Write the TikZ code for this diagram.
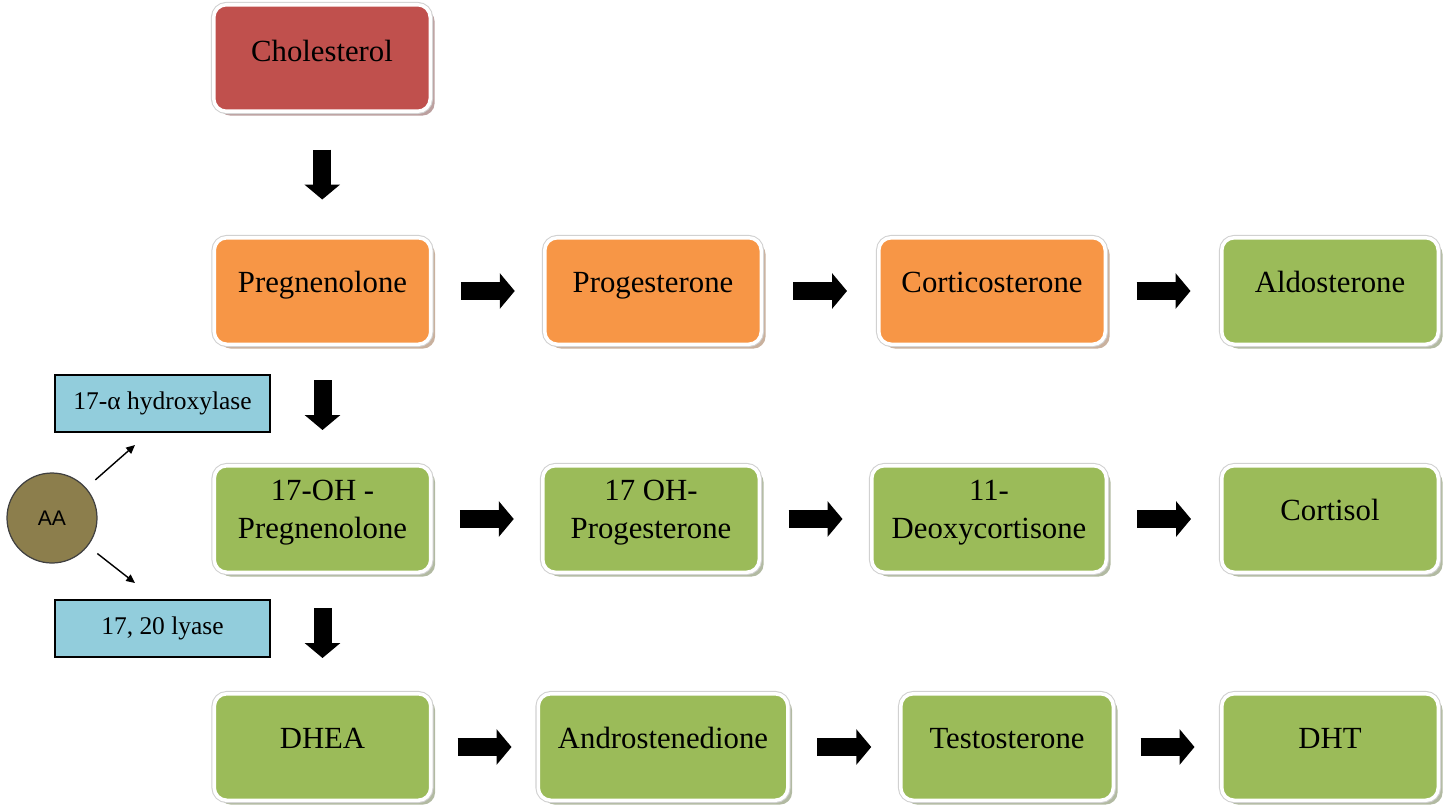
\documentclass[tikz,border=0pt]{standalone}
\usepackage{fontspec}
\setmainfont{Liberation Serif}
\newfontfamily\aafont{Liberation Sans}
\usetikzlibrary{calc,shadows,arrows.meta}

\definecolor{cholred}{HTML}{C0504D}
\definecolor{pathorange}{HTML}{F79646}
\definecolor{pathgreen}{HTML}{9BBB59}
\definecolor{enzblue}{HTML}{92CDDC}
\definecolor{aabrown}{RGB}{140,126,76}

\tikzset{
  stage/.style={rounded corners=0.25cm, fill=#1, draw=white, line width=2pt,
    minimum width=4.33cm, minimum height=2.13cm,
    drop shadow={fill=#1!55!black, opacity=0.45, shadow xshift=2.5pt, shadow yshift=-2.5pt},
    preaction={draw=black!18, line width=3.2pt}},
  stagetext/.style={yshift=3.5pt, align=center, font=\fontsize{17.5}{21.5}\selectfont},
  oneline/.style={stagetext, text height=12.1pt, text depth=3.85pt},
  enzyme/.style={draw=black, line width=0.8pt, fill=enzblue,
    minimum width=4.3cm, minimum height=1.14cm, font=\fontsize{14.5}{17}\selectfont},
  fat/.style={line width=0.36cm, -{Triangle[width=0.7cm,length=0.3cm]}},
  cofactor/.style={line width=0.8pt, -{Triangle[length=5pt,width=4.5pt]}, shorten <=0.24cm}
}

\begin{document}
\begin{tikzpicture}
  \useasboundingbox (0,0) rectangle (28.96,-16.1);

  % steroid stages
  \node[stage=cholred, label={[oneline,yshift=-1.5pt]center:Cholesterol}] (chol) at (6.44,-1.16) {};

  \node[stage=pathorange, label={[oneline]center:Pregnenolone}] (preg) at (6.45,-5.82) {};
  \node[stage=pathorange, label={[oneline]center:Progesterone}] (prog) at (13.06,-5.82) {};
  \node[stage=pathorange, minimum width=4.53cm, label={[oneline]center:Corticosterone}] (cortico) at (19.84,-5.82) {};
  \node[stage=pathgreen, label={[oneline]center:Aldosterone}] (aldo) at (26.6,-5.82) {};

  \node[stage=pathgreen, label={[stagetext]center:17-OH -\\Pregnenolone}] (ohpreg) at (6.45,-10.38) {};
  \node[stage=pathgreen, label={[stagetext]center:17 OH-\\Progesterone}] (ohprog) at (13.02,-10.38) {};
  \node[stage=pathgreen, minimum width=4.69cm, label={[stagetext]center:11-\\Deoxycortisone}] (deoxy) at (19.78,-10.38) {};
  \node[stage=pathgreen, label={[oneline]center:Cortisol}] (cortisol) at (26.6,-10.38) {};

  \node[stage=pathgreen, label={[oneline]center:DHEA}] (dhea) at (6.45,-14.94) {};
  \node[stage=pathgreen, minimum width=4.99cm, label={[oneline]center:Androstenedione}] (andro) at (13.26,-14.94) {};
  \node[stage=pathgreen, minimum width=4.25cm, label={[oneline]center:Testosterone}] (testo) at (20.14,-14.94) {};
  \node[stage=pathgreen, label={[oneline]center:DHT}] (dht) at (26.6,-14.94) {};

  % enzymes and AA
  \node[enzyme] (hyd) at (3.25,-8.07) {17-α hydroxylase};
  \node[enzyme] (lyase) at (3.25,-12.57) {17, 20 lyase};
  \node[circle, fill=aabrown, draw=black!75, line width=0.7pt, minimum size=1.8cm,
        font=\aafont\fontsize{12}{14}\selectfont] (aa) at (1.04,-10.36) {AA};

  \coordinate (hydin) at (2.7,-8.9);
  \coordinate (lyasein) at (2.7,-11.66);
  \draw[cofactor] (aa) -- (hydin);
  \draw[cofactor] (aa) -- (lyasein);

  % down the column
  \draw[fat] ($(chol.south)!0.5!(preg.north)+(0,0.5)$) -- ++(0,-1);
  \draw[fat] ($(preg.south)!0.5!(ohpreg.north)+(0,0.5)$) -- ++(0,-1);
  \draw[fat] ($(ohpreg.south)!0.5!(dhea.north)+(0,0.5)$) -- ++(0,-1);

  % along the rows
  \draw[fat] ($(preg.east)!0.5!(prog.west)-(0.54,0)$) -- ++(1.08,0);
  \draw[fat] ($(prog.east)!0.5!(cortico.west)-(0.54,0)$) -- ++(1.08,0);
  \draw[fat] ($(cortico.east)!0.5!(aldo.west)-(0.54,0)$) -- ++(1.08,0);

  \draw[fat] ($(ohpreg.east)!0.5!(ohprog.west)-(0.54,0)$) -- ++(1.08,0);
  \draw[fat] ($(ohprog.east)!0.5!(deoxy.west)-(0.54,0)$) -- ++(1.08,0);
  \draw[fat] ($(deoxy.east)!0.5!(cortisol.west)-(0.54,0)$) -- ++(1.08,0);

  \draw[fat] ($(dhea.east)!0.5!(andro.west)-(0.54,0)$) -- ++(1.08,0);
  \draw[fat] ($(andro.east)!0.5!(testo.west)-(0.54,0)$) -- ++(1.08,0);
  \draw[fat] ($(testo.east)!0.5!(dht.west)-(0.54,0)$) -- ++(1.08,0);
\end{tikzpicture}
\end{document}
